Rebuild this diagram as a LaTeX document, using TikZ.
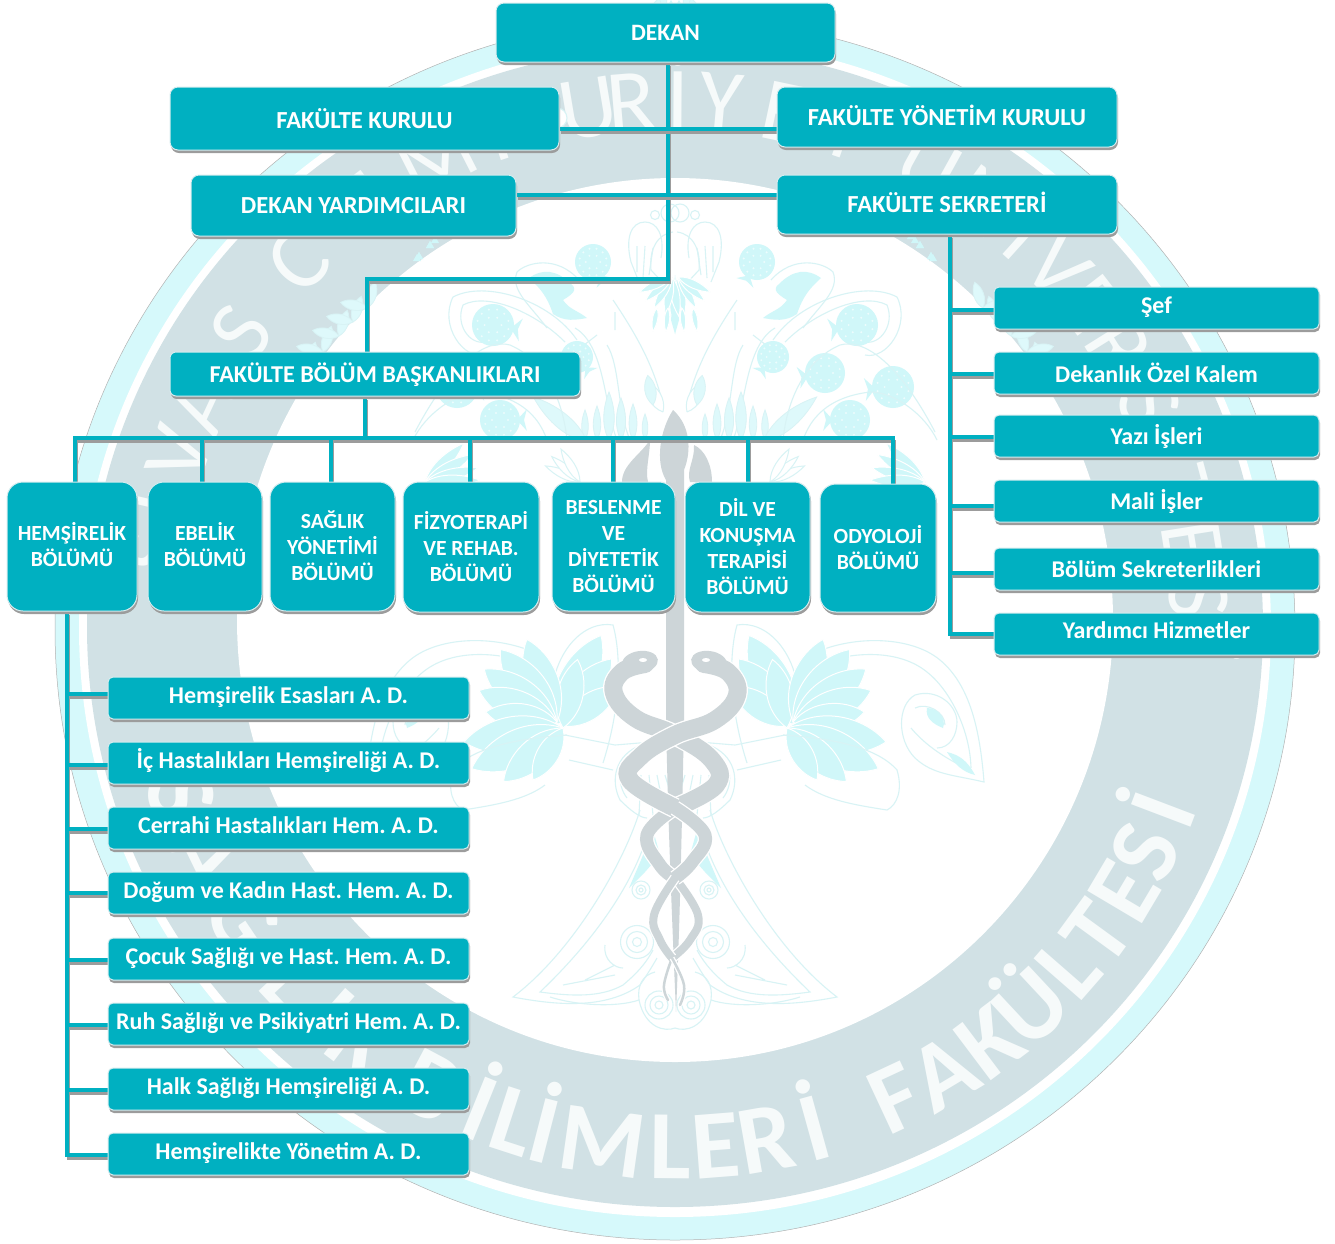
\documentclass[tikz,border=0pt]{standalone}
\usepackage{fontspec}
\setmainfont{Carlito}
\usetikzlibrary{shadows}
\pgfdeclarelayer{wm}\pgfdeclarelayer{cn}\pgfsetlayers{wm,cn,main}
\definecolor{tealbox}{HTML}{00B0C1}
\definecolor{edgebox}{HTML}{D6ECEF}
\definecolor{shade}{HTML}{9C9C9C}
\definecolor{ringcy}{HTML}{D6F9FB}
\definecolor{ringgr}{HTML}{D1E1E5}
\definecolor{wmcy}{HTML}{D0F7F9}
\definecolor{wmln}{HTML}{D8F3F5}
\definecolor{wmgr}{HTML}{CDD5D8}
\definecolor{wmlt}{HTML}{F6FAFA}
\tikzset{
 boxbase/.style={rectangle,fill=tealbox,draw=edgebox,line width=1pt,text=white,inner sep=0pt,outer sep=0pt,align=center,
   execute at begin node=\frenchspacing,
   drop shadow={shadow xshift=1pt,shadow yshift=-3pt,fill=shade,opacity=1}},
 bigbox/.style={boxbase,rounded corners=8pt,font=\bfseries\fontsize{24.5}{26}\selectfont,text height=16pt,text depth=0pt},
 wbox/.style={boxbase,rounded corners=6pt,font=\bfseries\fontsize{24.2}{26}\selectfont,text height=16pt,text depth=0pt},
 dept/.style={boxbase,rounded corners=16pt,font=\bfseries\fontsize{21.6}{26}\selectfont},
 smallbox/.style={boxbase,rounded corners=5pt,font=\bfseries\fontsize{24}{26}\selectfont,text height=16pt,text depth=0pt},
 conn/.style={draw=tealbox,line width=4pt,line join=miter},
 connsh/.style={draw=shade,line width=3.5pt,line join=miter,transform canvas={xshift=1.5pt,yshift=-3.5pt}},
 wmout/.style={draw=wmln,line width=1.1pt,fill=none},
 wmfill/.style={fill=wmcy,draw=none},
 wmleafst/.style={fill=wmcy,draw=white,line width=1pt},
 wmthin/.style={fill=wmcy!70!white,draw=wmln,line width=.8pt},
 wmopen/.style={fill=white,draw=wmln,line width=1pt},
}
\newcommand\bx[7]{\node[#6,minimum width={#4pt-#2pt},minimum height={#5pt-#3pt}] (#1) at ({(#2+#4)/2},{(#3+#5)/2}) {#7};}
\newcommand\conn[1]{\draw[connsh] #1; \draw[conn] #1;}
\newcommand\wmfruit[4]{% x y r crown-angle
  \fill[wmcy] (#1,#2) circle[radius=#3pt];
  \foreach \ang in {0,60,...,300}{\fill[white!60!wmcy] ({#1+.4*#3*cos(\ang)},{#2+.4*#3*sin(\ang)}) circle[radius=1.1pt];}
  \foreach \ang in {15,45,...,345}{\fill[white!60!wmcy] ({#1+.76*#3*cos(\ang)},{#2+.76*#3*sin(\ang)}) circle[radius=1.1pt];}
  \fill[wmcy] ({#1+.85*#3*cos(#4)},{#2+.85*#3*sin(#4)}) -- ({#1+1.45*#3*cos(#4+22)},{#2+1.45*#3*sin(#4+22)}) -- ({#1+1.2*#3*cos(#4)},{#2+1.2*#3*sin(#4)}) -- ({#1+1.45*#3*cos(#4-22)},{#2+1.45*#3*sin(#4-22)}) -- cycle;
}
\newcommand\wmleaf[5][wmleafst]{% x y len rot
  \path[#1,shift={(#2,#3)},rotate=#5] (0,0) .. controls ({#4*.3},{#4*.17}) and ({#4*.7},{#4*.12}) .. (#4,0) .. controls ({#4*.7},{-#4*.12}) and ({#4*.3},{-#4*.17}) .. (0,0);
}
\newcommand\wmfat[5][wmleafst]{% wider petal
  \path[#1,shift={(#2,#3)},rotate=#5] (0,0) .. controls ({#4*.3},{#4*.27}) and ({#4*.75},{#4*.22}) .. (#4,0) .. controls ({#4*.75},{-#4*.22}) and ({#4*.3},{-#4*.27}) .. (0,0);
}
\newcommand\treehalf{%
 % crown
 \draw[wmout] (5,213) circle[radius=9pt];
 \draw[wmout] (20,215) circle[radius=4.5pt];
 \draw[wmout] (14,258) .. controls (10,235) and (18,222) .. (30,222) .. controls (44,222) and (50,238) .. (44,262) -- (36,282);
 \draw[wmout] (22,248) -- (26,275) (30,246) -- (32,278) (38,246) -- (38,272);
 \foreach \px/\py in {24,236, 31,230, 38,236, 31,240}{\fill[wmcy] (\px,\py-4) -- (\px+4,\py+3) -- (\px-4,\py+3) -- cycle;}
 \draw[wmout] (2,232) .. controls (18,234) and (26,250) .. (24,270) -- (10,285);
 \foreach \px/\py in {8,245, 16,245, 12,256, 4,256, 20,258}{\fill[wmcy] (\px,\py-4) -- (\px+4,\py+3) -- (\px-4,\py+3) -- cycle;}
 \fill[wmcy] (0,275) -- (4,320) -- (0,334) -- cycle;
 \foreach \rr/\ll in {-100/40,-80/38,-60/36,-42/36,-25/36}{\wmleaf{3}{277}{\ll}{\rr}}
 \wmleaf{7}{308}{24}{-85} \wmleaf{18}{308}{24}{-80}
 % feathered branches
 \draw[wmout] (12,405) .. controls (20,370) and (35,340) .. (62,300);
 \foreach \px/\py in {18,385, 24,368, 31,352, 40,336, 49,322, 58,308}{
   \wmfat[wmthin]{\px}{\py}{27}{108}
   \wmfat[wmthin]{\px}{\py}{27}{12}
 }
 \wmfat[wmopen]{12}{412}{34}{62}
 \wmfat[wmthin]{22}{405}{30}{80}
 % peacock
 \path[wmfill] (88,318) .. controls (98,310) and (105,310) .. (112,300) .. controls (104,295) and (96,290) .. (104,284) .. controls (118,270) and (132,268) .. (146,278) .. controls (135,288) and (128,296) .. (122,314) .. controls (110,322) and (100,320) .. (88,318);
 \draw[wmout] (96,280) .. controls (118,255) and (148,262) .. (158,272) .. controls (165,290) and (145,305) .. (128,328);
 \draw[wmout] (98,340) .. controls (125,300) and (190,280) .. (222,297) .. controls (236,325) and (212,360) .. (190,355);
 \draw[wmout] (110,342) .. controls (140,312) and (188,292) .. (212,305) .. controls (220,325) and (205,345) .. (190,342);
 \draw[wmout] (78,335) -- (100,352) (60,330) -- (60,312);
 \wmfruit{82}{262}{18}{120}
 \wmfruit{182}{325}{21}{170}
 \wmfruit{98}{357}{16}{130}
 \wmfruit{150}{373}{20}{170}
 \wmfruit{218}{387}{21}{175}
 \wmfruit{175}{420}{20}{180}
 % arches and stems
 \draw[wmout] (58,440) .. controls (70,410) and (70,345) .. (100,328) (45,440) .. controls (58,410) and (55,365) .. (68,345);
 \foreach \px/\ll in {30/26,42/36,54/42,66/48,78/34,90/30}{\wmleaf[wmthin]{\px}{440}{\ll}{90}}
 \wmleaf[wmthin]{88}{442}{70}{40}
 \draw[wmout] (108,440) .. controls (112,400) and (130,360) .. (165,345) .. controls (190,338) and (225,365) .. (260,432);
 \draw[wmout] (128,440) .. controls (140,405) and (170,395) .. (195,392) .. controls (220,392) and (250,415) .. (262,440);
 \foreach \rr in {135,150,165,178}{\wmleaf{250}{482}{55}{\rr}}
 \foreach \rr in {25,42,60}{\wmleaf[wmopen]{95}{482}{38}{\rr}}
 % lower wing: upward petals
 \draw[wmout] (72,763) .. controls (52,700) and (55,650) .. (62,625) .. controls (90,620) and (125,650) .. (125,712);
 \wmfat{120}{722}{98}{118}
 \wmfat{118}{724}{85}{130}
 \wmfat{114}{726}{70}{146}
 \wmfat{112}{728}{70}{102}
 % flourish
 \draw[wmout] (135,655) .. controls (175,635) and (235,635) .. (265,660) .. controls (295,685) and (305,730) .. (309,782) .. controls (280,775) and (258,775) .. (240,758) .. controls (222,740) and (222,705) .. (240,695) .. controls (262,688) and (282,705) .. (282,722) .. controls (282,735) and (275,748) .. (262,748);
 \draw[wmout] (140,665) .. controls (180,650) and (225,650) .. (252,672) .. controls (275,690) and (295,730) .. (296,768);
 \draw[wmout] (240,708) .. controls (252,702) and (270,712) .. (270,725) (236,728) .. controls (250,745) and (272,760) .. (296,770);
 \fill[wmcy] (252,708) .. controls (262,708) and (272,718) .. (268,728) .. controls (258,724) and (250,718) .. (252,708);
 \fill[wmcy] (300,775) .. controls (292,760) and (284,755) .. (272,752) .. controls (280,765) and (288,772) .. (300,775);
 \foreach \rr/\ll in {70/88,52/92,36/90,22/84,8/72}{\wmfat{118}{722}{\ll}{\rr}}
 \foreach \rr/\ll in {-8/100,-24/100,-42/80,-60/60}{\wmfat{112}{728}{\ll}{\rr}}
 \draw[wmout] (108,735) .. controls (150,738) and (200,745) .. (222,770) .. controls (228,790) and (222,805) .. (212,810) .. controls (180,805) and (150,800) .. (130,785);
 \foreach \cx/\cy in {119,752, 131,768, 118,772}{\draw[wmout,fill=white] (\cx,\cy) circle[radius=10pt];}
 % arm to the axis
 \draw[wmout] (0,740) -- (60,745) -- (110,735) (62,770) -- (106,760);
 \draw[wmout] (34,745) .. controls (60,755) and (65,780) .. (55,800) .. controls (45,810) and (35,818) .. (28,818);
 \draw[wmout] (40,752) .. controls (58,765) and (58,785) .. (48,798);
 \foreach \px/\eps in {10/-12,18/-8,26/-4,34/2}{\draw[wmout] (\px,775) -- ({\px+\eps},815);}
 % lower flare
 \draw[wmout] (35,810) .. controls (50,860) and (100,950) .. (162,997) .. controls (120,1005) and (70,1010) .. (35,985) .. controls (28,975) and (22,965) .. (18,958);
 \draw[wmout] (24,822) .. controls (35,870) and (70,930) .. (135,992) .. controls (105,996) and (75,998) .. (52,985) .. controls (40,975) and (30,965) .. (22,950);
 \draw[wmout] (60,975) -- (112,985) (60,965) -- (90,980) (70,945) .. controls (72,960) and (60,968) .. (52,968);
 \fill[wmcy] (22,830) -- (34,860) -- (46,888) -- (30,872) -- (15,855) -- cycle;
 \foreach \rr in {11,7,3}{\draw[wmout] (38,942) circle[radius=\rr*1.5pt];}
 \foreach \rr in {9,5,2}{\draw[wmout] (34,890) circle[radius=\rr*1pt];}
 \foreach \rr in {14,9,4}{\draw[wmout] (16,1005) circle[radius=\rr*1pt];}
 \draw[wmout] (0,1028) .. controls (10,1032) and (30,1028) .. (36,1000) .. controls (38,985) and (32,975) .. (20,972);
 \draw[wmout] (36,1000) .. controls (60,1008) and (100,1005) .. (125,997);
}
\newcommand\wmsnake[2]{%
 \draw[white,line width=#1pt+2.6pt] plot[smooth,tension=.7] coordinates {#2};
 \draw[wmgr,line width=#1pt,line cap=round] plot[smooth,tension=.7] coordinates {#2};
}
\begin{document}
\begin{tikzpicture}[x=1pt,y=-1pt]
\useasboundingbox (0,0) rectangle (1335,1243);
% ---------- boxes
\bx{dekan}{496}{3}{835}{62}{bigbox,font=\bfseries\fontsize{23.5}{26}\selectfont}{DEKAN}
\bx{kurul}{170}{87}{559}{150}{bigbox,text height=20pt}{FAKÜLTE KURULU}
\bx{yonet}{777}{87}{1117}{147}{bigbox}{FAKÜLTE YÖNETİM KURULU}
\bx{yard}{191}{175}{516}{236}{bigbox}{DEKAN YARDIMCILARI}
\bx{sekr}{777}{175}{1117}{234}{bigbox}{FAKÜLTE SEKRETERİ}
\bx{bolum}{170}{352}{580}{396}{wbox}{FAKÜLTE BÖLÜM BAŞKANLIKLARI}
\bx{hem}{7}{482}{137}{611}{dept}{HEMŞİRELİK\\BÖLÜMÜ\\[-22pt]}
\bx{ebe}{148}{482}{262}{611}{dept}{EBELİK\\BÖLÜMÜ\\[-22pt]}
\bx{sag}{270}{482}{395}{611}{dept}{SAĞLIK\\YÖNETİMİ\\BÖLÜMÜ\\[-24pt]}
\bx{fiz}{403}{482}{539}{612}{dept}{FİZYOTERAPİ\\VE REHAB.\\BÖLÜMÜ\\[-24pt]}
\bx{bes}{552}{482}{675}{611}{dept}{BESLENME\\VE\\DİYETETİK\\BÖLÜMÜ}
\bx{dil}{685}{482}{810}{612}{dept}{DİL VE\\KONUŞMA\\TERAPİSİ\\BÖLÜMÜ\\[-24pt]}
\bx{ody}{820}{484}{936}{612}{dept}{ODYOLOJİ\\BÖLÜMÜ\\[-24pt]}
\bx{sef}{994}{287}{1319}{329}{smallbox,text height=10pt}{Şef}
\bx{ozel}{994}{352}{1319}{394}{smallbox,text height=18pt}{Dekanlık Özel Kalem}
\bx{yazi}{994}{415}{1319}{457}{smallbox}{Yazı İşleri}
\bx{mali}{994}{480}{1319}{522}{smallbox}{Mali İşler}
\bx{bsek}{994}{548}{1319}{590}{smallbox}{Bölüm Sekreterlikleri}
\bx{yrd}{994}{613}{1319}{655}{smallbox,text height=8pt}{Yardımcı Hizmetler}
\bx{ad1}{108}{677}{469}{719}{smallbox,text height=10pt}{Hemşirelik Esasları A. D.}
\bx{ad2}{108}{742}{469}{784}{smallbox,text height=10pt}{İç Hastalıkları Hemşireliği A. D.}
\bx{ad3}{108}{807}{469}{849}{smallbox,text height=10pt}{Cerrahi Hastalıkları Hem. A. D.}
\bx{ad4}{108}{872}{469}{914}{smallbox,text height=10pt}{Doğum ve Kadın Hast. Hem. A. D.}
\bx{ad5}{108}{938}{469}{980}{smallbox,text height=10pt}{Çocuk Sağlığı ve Hast. Hem. A. D.}
\bx{ad6}{108}{1003}{469}{1045}{smallbox,text height=10pt}{Ruh Sağlığı ve Psikiyatri Hem. A. D.}
\bx{ad7}{108}{1068}{469}{1110}{smallbox,text height=10pt}{Halk Sağlığı Hemşireliği A. D.}
\bx{ad8}{108}{1133}{469}{1175}{smallbox,text height=10pt}{Hemşirelikte Yönetim A. D.}
% ---------- connectors
\begin{pgfonlayer}{cn}
\conn{(668,0 |- dekan.south) -- (668,279) -| (367,0 |- bolum.north)}
\conn{(kurul.east |- 0,129) -- (yonet.west |- 0,129)}
\conn{(yard.east |- 0,195) -- (sekr.west |- 0,195)}
\conn{(365,0 |- bolum.south) -- (365,438)}
\conn{(75,0 |- hem.north) |- (893,438) -- (893,0 |- ody.north)}
\conn{(202,0 |- ebe.north) -- (202,438)}
\conn{(331,0 |- sag.north) -- (331,438)}
\conn{(470,0 |- fiz.north) -- (470,438)}
\conn{(613,0 |- bes.north) -- (613,438)}
\conn{(748,0 |- dil.north) -- (748,438)}
\conn{(950,0 |- sekr.south) |- (yrd.west |- 0,634)}
\conn{(950,310) -- (sef.west |- 0,310)}
\conn{(950,374) -- (ozel.west |- 0,374)}
\conn{(950,437) -- (yazi.west |- 0,437)}
\conn{(950,506) -- (mali.west |- 0,506)}
\conn{(950,573) -- (bsek.west |- 0,573)}
\conn{(67,0 |- hem.south) |- (ad8.west |- 0,1155)}
\conn{(67,694) -- (ad1.west |- 0,694)}
\conn{(67,765) -- (ad2.west |- 0,765)}
\conn{(67,829) -- (ad3.west |- 0,829)}
\conn{(67,893) -- (ad4.west |- 0,893)}
\conn{(67,960) -- (ad5.west |- 0,960)}
\conn{(67,1025) -- (ad6.west |- 0,1025)}
\conn{(67,1090) -- (ad7.west |- 0,1090)}
\end{pgfonlayer}
% ---------- watermark
\begin{pgfonlayer}{wm}
\fill[ringcy,draw=gray!60,line width=.5pt] (675,629) ellipse[x radius=620pt,y radius=611pt];
\fill[white] (675,628) ellipse[x radius=596pt,y radius=589pt];
\fill[ringgr] (675,627) ellipse[x radius=588pt,y radius=580pt];
\fill[white] (675,620) ellipse[x radius=438pt,y radius=442pt];
% ring lettering
\foreach \c/\a in {S/172,İ/167,V/161,A/155,S/146,C/136,U/127,M/117,H/108,U/99.5,R/94.8,İ/89.7,Y/85,E/78,T/71,Ü/61,N/54,İ/48,V/43,E/37.7,R/32,S/25,İ/20,T/15,E/9,S/3,İ/-3}{
  \node[text=wmlt,inner sep=0pt,anchor=base,rotate={\a-90},font=\fontsize{90}{90}\selectfont] (wt\a) at ({675+495*cos(\a)},{625-495*sin(\a)}) {\c};
}
\foreach \c/\a in {İ/20.8,S/25.8,E/30.7,T/36.1,L/41.1,Ü/47,K/53,A/59,F/65,İ/74.5,R/80,E/85.5,L/90.5,M/98,İ/104.5,L/108,İ/112,B/118,K/127,I/131.5,L/137,Ğ/146,A/154,S/161}{
  \node[text=wmlt,inner sep=0pt,anchor=base,rotate={90-\a},font=\bfseries\fontsize{98}{98}\selectfont] (wb\a) at ({675+554*cos(\a)},{625+554*sin(\a)}) {\c};
}
% tree ornament
\begin{scope}[shift={(675,0)}]\treehalf\end{scope}
\begin{scope}[shift={(675,0)},xscale=-1]\treehalf\end{scope}
% caduceus
\fill[wmgr] (673,410) .. controls (690,425) and (692,450) .. (684,470) -- (684,620) -- (684,720) .. controls (682,820) and (680,920) .. (676,1012) .. controls (672,920) and (668,820) .. (666,720) -- (666,480) .. controls (655,462) and (660,430) .. (673,410);
\fill[wmgr] (650,440) .. controls (640,455) and (622,465) .. (622,482) -- (648,482) .. controls (645,470) and (650,455) .. (650,440);
\fill[wmgr] (694,445) .. controls (695,460) and (686,470) .. (690,482) -- (712,482) .. controls (712,465) and (705,450) .. (694,445);
\wmsnake{18}{(645,664)(622,672)(614,693)(635,718)(675,735)(712,760)(716,785)(675,808)}
\wmsnake{13}{(675,808)(647,835)(660,865)(675,878)}
\wmsnake{8}{(675,878)(698,915)(690,940)(672,958)}
\wmsnake{2.5}{(672,958)(664,985)(668,1000)}
\wmsnake{18}{(704,664)(728,672)(737,695)(715,720)(675,735)(640,757)(630,780)(675,808)}
\wmsnake{13}{(675,808)(705,835)(692,862)(675,878)}
\wmsnake{8}{(675,878)(654,915)(660,940)(672,958)}
\wmsnake{2.5}{(672,958)(684,985)(680,1005)}
\fill[wmgr,rotate around={8:(640,662)}] (640,662) ellipse[x radius=18pt,y radius=11pt];
\fill[wmgr,rotate around={-8:(709,662)}] (709,662) ellipse[x radius=18pt,y radius=11pt];
\fill[white] (643,660) ellipse[x radius=4pt,y radius=2pt];
\fill[white] (706,660) ellipse[x radius=4pt,y radius=2pt];
\end{pgfonlayer}
\end{tikzpicture}
\end{document}
